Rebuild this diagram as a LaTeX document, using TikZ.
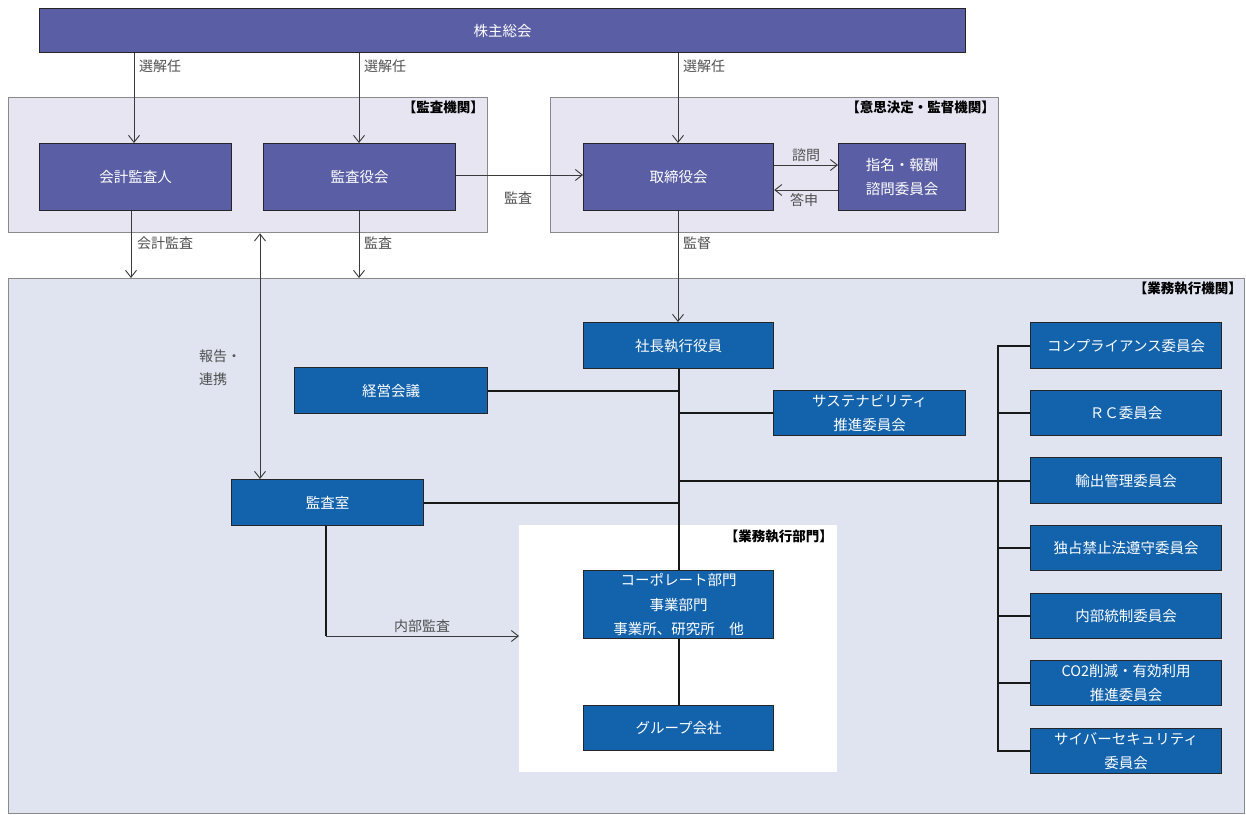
\documentclass[tikz,border=0pt]{standalone}
\usepackage{fontspec}
\newfontfamily\jp{Noto Sans CJK JP}
\usetikzlibrary{arrows.meta}
\definecolor{purp}{HTML}{5A5EA4}
\definecolor{blu}{HTML}{1262AC}
\definecolor{lav}{HTML}{E7E5F1}
\definecolor{pale}{HTML}{DFE4F0}
\definecolor{ln}{HTML}{3A3A3A}
\definecolor{frame}{HTML}{8A8A8A}
\definecolor{lbl}{HTML}{505050}
\tikzset{
  base/.style={draw=black!85, line width=1.2pt, text=white, align=center,
    inner sep=0pt, anchor=north west, font=\jp\fontsize{14.5}{24.5}\selectfont},
  pbox/.style={base, fill=purp},
  bbox/.style={base, fill=blu},
  group/.style={draw=frame, line width=1.3pt, anchor=north west, inner sep=0pt},
  lab/.style={anchor=west, text=lbl, inner sep=0pt, font=\jp\fontsize{14}{23}\selectfont},
  glab/.style={anchor=north east, text=black, inner sep=0pt, font=\jp\bfseries\fontsize{13.5}{15}\selectfont},
  arr/.style={draw=ln, line width=0.9pt, -{Straight Barb[length=7pt,width=11pt]}},
  darr/.style={draw=ln, line width=0.9pt, {Straight Barb[length=7pt,width=11pt]}-{Straight Barb[length=7pt,width=11pt]}},
  link/.style={draw=black!90, line width=2pt}
}
\newcommand\bx[6]{\node[#1, minimum width=#4pt, minimum height=#5pt] (#2) at (#3) {#6};}
\begin{document}
\begin{tikzpicture}[x=1pt,y=-1pt]
\useasboundingbox (0,0) rectangle (1246,814);
% containers
\node[group, fill=lav, minimum width=479pt, minimum height=135pt] (audit) at (8,97) {};
\node[group, fill=lav, minimum width=448pt, minimum height=135pt] (decide) at (550,97) {};
\node[group, fill=pale, minimum width=1236pt, minimum height=535pt] (exec) at (8,278) {};
\node[anchor=north west, fill=white, minimum width=318pt, minimum height=247pt, inner sep=0pt] (dept) at (519,525) {};
\node[glab] at (484,101) {【監査機関】};
\node[glab] at (995,101) {【意思決定・監督機関】};
\node[glab] at (1242,282) {【業務執行機関】};
\node[glab] at (833,530) {【業務執行部門】};
% top boxes
\bx{pbox}{soukai}{39,8}{926}{44}{株主総会}
\bx{pbox}{kaikei}{39,143}{192}{67}{会計監査人}
\bx{pbox}{kansayaku}{263,143}{192}{67}{監査役会}
\bx{pbox}{torishimari}{583,143}{190}{67}{取締役会}
\bx{pbox}{shimei}{838,143}{127}{67}{指名・報酬\\諮問委員会}
% exec boxes
\bx{bbox}{shacho}{583,322}{190}{46}{社長執行役員}
\bx{bbox}{keiei}{294,367}{193}{46}{経営会議}
\bx{bbox}{sustain}{773,390}{192}{45}{サステナビリティ\\推進委員会}
\bx{bbox}{shitsu}{231,479}{192}{46}{監査室}
\bx{bbox}{corp}{583,570}{190}{68}{コーポレート部門\\事業部門\\事業所、研究所　他}
\bx{bbox}{group}{583,705}{190}{45}{グループ会社}
\bx{bbox}{c1}{1030,322}{191}{46}{コンプライアンス委員会}
\bx{bbox}{c2}{1030,390}{191}{45}{ＲＣ委員会}
\bx{bbox}{c3}{1030,457}{191}{46}{輸出管理委員会}
\bx{bbox}{c4}{1030,525}{191}{45}{独占禁止法遵守委員会}
\bx{bbox}{c5}{1030,593}{191}{45}{内部統制委員会}
\bx{bbox}{c6}{1030,660}{191}{45}{CO2削減・有効利用\\推進委員会}
\bx{bbox}{c7}{1030,728}{191}{45}{サイバーセキュリティ\\委員会}
% helper coordinates
\coordinate (xa) at (134,0);
\coordinate (xb) at (359,0);
\coordinate (xc) at (678,0);
\coordinate (xk) at (131,0);
\coordinate (xr) at (260,0);
\coordinate (bus) at (998,0);
\coordinate (xs) at (326,0);
\coordinate (ya) at (0,175);
\coordinate (yq) at (0,165);
\coordinate (yt) at (0,190);
\coordinate (yi) at (0,636);
% election arrows
\draw[arr] (soukai.south -| xa) -- (kaikei.north -| xa);
\draw[arr] (soukai.south -| xb) -- (kansayaku.north -| xb);
\draw[arr] (soukai.south -| xc) -- (torishimari.north -| xc);
\node[lab] at (139,66) {選解任};
\node[lab] at (364,66) {選解任};
\node[lab] at (683,66) {選解任};
% audit
\draw[arr] (kansayaku.east |- ya) -- (torishimari.west |- ya);
\node[lab] at (504,198) {監査};
\draw[arr] (torishimari.east |- yq) -- (shimei.west |- yq);
\node[lab] at (792,155) {諮問};
\draw[arr] (shimei.west |- yt) -- (torishimari.east |- yt);
\node[lab] at (790,200) {答申};
\draw[arr] (kaikei.south -| xk) -- (exec.north -| xk);
\node[lab] at (137,243) {会計監査};
\draw[arr] (kansayaku.south -| xb) -- (exec.north -| xb);
\node[lab] at (364,243) {監査};
\draw[arr] (torishimari.south -| xc) -- (shacho.north -| xc);
\node[lab] at (683,243) {監督};
\draw[darr] (audit.south -| xr) -- (shitsu.north -| xr);
\node[lab, align=left] at (199,368) {報告・\\連携};
% executive links
\draw[link] (shacho.south) -- (corp.north);
\draw[link] (corp.south) -- (group.north);
\draw[link] (keiei.east) -- (keiei.east -| shacho.south);
\draw[link] (sustain.west) -- (sustain.west -| shacho.south);
\draw[link] (shitsu.east) -- (shitsu.east -| shacho.south);
\draw[link] (c3.west -| shacho.south) -- (c3.west);
\draw[link] (c1.west) -- (c1.west -| bus) -- (c7.west -| bus) -- (c7.west);
\foreach \c in {c2,c4,c5,c6} \draw[link] (\c.west) -- (\c.west -| bus);
% internal audit
\draw[line width=2pt, draw=black!90] (shitsu.south -| xs) -- (yi -| xs);
\draw[arr] (yi -| xs) -- (dept.west |- yi);
\node[lab] at (394,626) {内部監査};
\end{tikzpicture}
\end{document}
